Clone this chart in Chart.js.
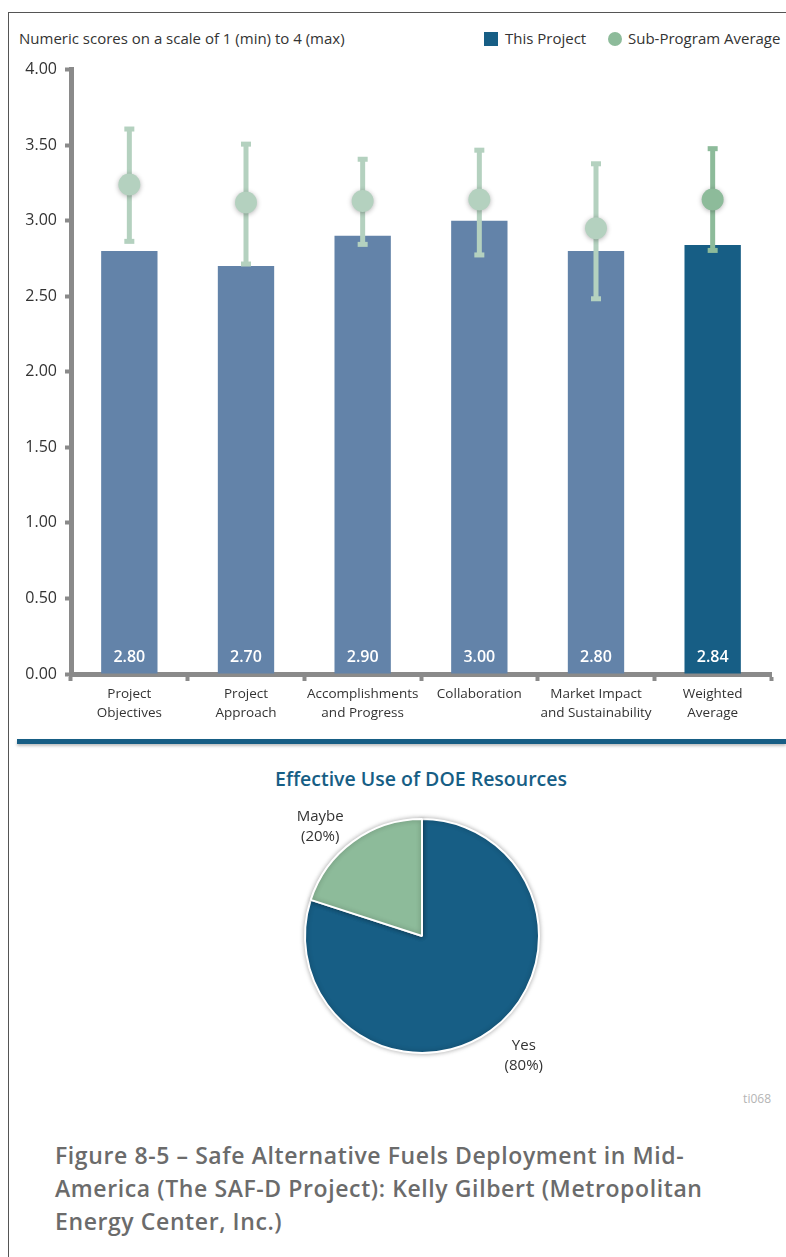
<!DOCTYPE html>
<html>
<head>
<meta charset="utf-8">
<script src="https://cdn.jsdelivr.net/npm/chart.js@4"></script>
<style>
    body { margin: 0; width: 786px; height: 1257px; background: #fff; position: relative; overflow: hidden; font-family: "Open Sans", Lato, sans-serif; color: #333; }
    .frame-top { position: absolute; left: 8px; top: 12px; width: 778px; height: 0; border-top: 1.5px solid #555; }
    .frame-left { position: absolute; left: 8px; top: 12px; width: 0; height: 1245px; border-left: 1.5px solid #555; }
    .subtitulo { position: absolute; left: 19px; top: 28px; font-size: 15px; color: #333; }
    .legenda { position: absolute; top: 28px; font-size: 15px; color: #333; }
    .marca { position: absolute; width: 14px; height: 14px; top: 32px; }
    .divisor { position: absolute; left: 17px; top: 739px; width: 769px; height: 5px; background: #175e85; box-shadow: 0 2px 3px rgba(0,0,0,0.25); }
    .titulo-pizza { position: absolute; left: 0; width: 842px; top: 765px; text-align: center; font-size: 19.5px; font-weight: 600; color: #175e85; }
    .codigo { position: absolute; right: 15px; top: 1090px; font-size: 12px; color: #b5b5b5; }
    .legenda-fig { position: absolute; left: 55px; top: 1139px; font-size: 23px; letter-spacing: 0.6px; font-weight: 600; line-height: 33px; color: #6b6b6b; }
    canvas { position: absolute; }
</style>
</head>
<body>
<div class="frame-top"></div>
<div class="frame-left"></div>
<div class="subtitulo">Numeric scores on a scale of 1 (min) to 4 (max)</div>
<div class="marca" style="left:484px;background:#175e85;"></div>
<div class="legenda" style="left:505px;">This Project</div>
<div class="marca" style="left:608px;background:#8dbb9a;border-radius:50%;"></div>
<div class="legenda" style="left:628px;">Sub-Program Average</div>

<canvas id="barChart" width="786" height="688" style="left:0;top:52px;"></canvas>
<div class="divisor"></div>

<div class="titulo-pizza">Effective Use of DOE Resources</div>
<canvas id="pieChart" width="400" height="340" style="left:222px;top:766px;"></canvas>
<div class="codigo">ti068</div>

<div class="legenda-fig">Figure 8-5 – Safe Alternative Fuels Deployment in Mid-<br>America (The SAF-D Project): Kelly Gilbert (Metropolitan<br>Energy Center, Inc.)</div>

<script>
// dados
const categorias = [
    ["Project", "Objectives"],
    ["Project", "Approach"],
    ["Accomplishments", "and Progress"],
    ["Collaboration"],
    ["Market Impact", "and Sustainability"],
    ["Weighted", "Average"]
];
const notasProjeto = [2.80, 2.70, 2.90, 3.00, 2.80, 2.84];
const mediaSubPrograma = [3.24, 3.12, 3.13, 3.14, 2.95, 3.14];
const minimoSubPrograma = [2.86, 2.71, 2.84, 2.77, 2.48, 2.80];
const maximoSubPrograma = [3.61, 3.51, 3.41, 3.47, 3.38, 3.48];

const rotulosPizza = ["Yes", "Maybe"];
const valoresPizza = [80, 20];

const corBarra = "#6383a9";
const corBarraMedia = "#175e85";
const corPonto = "#b4d1bf";
const corPontoMedia = "#8dbb9a";
const corEixo = "#8a8a8a";
const fonte = "'Open Sans', sans-serif";

function corDoPonto(i) {
    return i === categorias.length - 1 ? corPontoMedia : corPonto;
}

const barrasDeErro = {
    id: "barrasDeErro",
    beforeDatasetDraw(chart, args) {
        if (args.index !== 1) return;
        const ctx = chart.ctx;
        const y = chart.scales.y;
        const meta = chart.getDatasetMeta(1);

        meta.data.forEach(function (ponto, i) {
            const topo = y.getPixelForValue(maximoSubPrograma[i]);
            const base = y.getPixelForValue(minimoSubPrograma[i]);
            ctx.save();
            ctx.strokeStyle = corDoPonto(i);
            ctx.fillStyle = corDoPonto(i);
            ctx.lineWidth = 5;
            ctx.beginPath();
            ctx.moveTo(ponto.x, topo);
            ctx.lineTo(ponto.x, base);
            ctx.stroke();
            ctx.fillRect(ponto.x - 5, topo - 2, 10, 5);
            ctx.fillRect(ponto.x - 5, base - 3, 10, 5);
            ctx.restore();
        });

        ctx.save();
        ctx.shadowColor = "rgba(0,0,0,0.3)";
        ctx.shadowBlur = 5;
        ctx.shadowOffsetY = 1;
    },
    afterDatasetDraw(chart, args) {
        if (args.index === 1) chart.ctx.restore();
    },
    afterDatasetsDraw(chart) {
        const ctx = chart.ctx;
        const meta = chart.getDatasetMeta(0);
        ctx.save();
        ctx.fillStyle = "#fff";
        ctx.font = "600 16px " + fonte;
        ctx.textAlign = "center";
        ctx.textBaseline = "middle";
        meta.data.forEach(function (barra, i) {
            ctx.fillText(notasProjeto[i].toFixed(2), barra.x, barra.base - 16);
        });
        ctx.restore();
    }
};

new Chart(document.getElementById("barChart"), {
    type: "bar",
    data: {
        labels: categorias,
        datasets: [{
            label: "This Project",
            data: notasProjeto,
            backgroundColor: notasProjeto.map(function (v, i) {
                return i === notasProjeto.length - 1 ? corBarraMedia : corBarra;
            }),
            categoryPercentage: 1,
            barPercentage: 0.483,
            order: 2
        }, {
            type: "line",
            label: "Sub-Program Average",
            data: mediaSubPrograma,
            showLine: false,
            pointRadius: 11,
            pointHoverRadius: 11,
            pointBorderWidth: 0,
            pointBackgroundColor: mediaSubPrograma.map(function (v, i) { return corDoPonto(i); }),
            order: 1
        }]
    },
    options: {
        responsive: false,
        animation: false,
        layout: { padding: { top: 4, left: 0, right: 15, bottom: 4 } },
        plugins: {
            legend: { display: false },
            tooltip: { enabled: false }
        },
        scales: {
            x: {
                afterFit: function (s) { s.height = 62; },
                grid: {
                    display: true,
                    drawOnChartArea: false,
                    drawTicks: true,
                    tickLength: 7,
                    tickWidth: 4,
                    tickColor: corEixo
                },
                border: { display: true, width: 5, color: corEixo },
                ticks: {
                    color: "#333",
                    font: { family: "Open Sans", size: 13.5, lineHeight: 1.4 },
                    padding: 4,
                    maxRotation: 0,
                    autoSkip: false
                }
            },
            y: {
                min: 0,
                max: 4,
                afterFit: function (s) { s.width = 71; },
                grid: {
                    drawOnChartArea: false,
                    drawTicks: true,
                    tickLength: 6,
                    tickWidth: 4,
                    tickColor: corEixo
                },
                border: { display: true, width: 5, color: corEixo },
                ticks: {
                    stepSize: 0.5,
                    color: "#333",
                    font: { family: "Open Sans", size: 16 },
                    padding: 8,
                    callback: function (v) { return Number(v).toFixed(2); }
                }
            }
        }
    },
    plugins: [barrasDeErro]
});

const rotulosDaPizza = {
    id: "rotulosDaPizza",
    beforeDatasetsDraw(chart) {
        const ctx = chart.ctx;
        ctx.save();
        ctx.shadowColor = "rgba(0,0,0,0.3)";
        ctx.shadowBlur = 5;
    },
    afterDatasetsDraw(chart) {
        const ctx = chart.ctx;
        ctx.restore();
        const meta = chart.getDatasetMeta(0);
        ctx.save();
        ctx.fillStyle = "#333";
        ctx.font = "15px " + fonte;
        ctx.textAlign = "center";
        ctx.textBaseline = "middle";
        meta.data.forEach(function (arco, i) {
            const meio = (arco.startAngle + arco.endAngle) / 2;
            const cx = Math.cos(meio), cy = Math.sin(meio);
            const dist = arco.outerRadius + 12;
            const px = arco.x + cx * dist + Math.sign(cx) * 26;
            const py = arco.y + cy * dist + Math.sign(cy) * 10 + 5;
            ctx.fillText(rotulosPizza[i], px, py - 10);
            ctx.fillText("(" + valoresPizza[i] + "%)", px, py + 10);
        });
        ctx.restore();
    }
};

new Chart(document.getElementById("pieChart"), {
    type: "pie",
    data: {
        labels: rotulosPizza,
        datasets: [{
            data: valoresPizza,
            backgroundColor: [corBarraMedia, corPontoMedia],
            borderColor: "#fff",
            borderWidth: 2
        }]
    },
    options: {
        responsive: false,
        animation: false,
        layout: { padding: { top: 52, bottom: 52, left: 82, right: 82 } },
        plugins: {
            legend: { display: false },
            tooltip: { enabled: false }
        }
    },
    plugins: [rotulosDaPizza]
});
</script>
</body>
</html>
